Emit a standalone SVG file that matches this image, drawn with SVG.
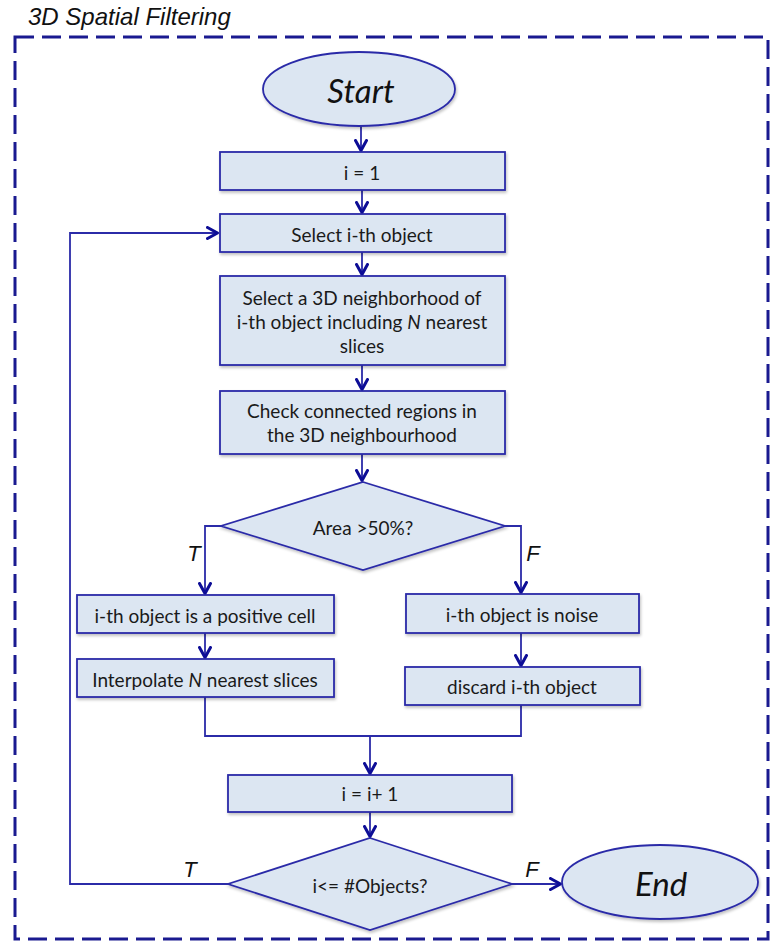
<svg xmlns="http://www.w3.org/2000/svg" width="772" height="943" viewBox="0 0 772 943">
<defs>
<marker id="arr" viewBox="0 0 14 14" refX="12.5" refY="7" markerWidth="14" markerHeight="14" markerUnits="userSpaceOnUse" orient="auto">
<path d="M2,1.5 L12,7 L2,12.5" fill="none" stroke="#0d0d96" stroke-width="3" stroke-linecap="round" stroke-linejoin="round"/>
</marker>
<filter id="sh" x="-10%" y="-10%" width="130%" height="140%">
<feGaussianBlur in="SourceAlpha" stdDeviation="1.5"/>
<feOffset dx="1" dy="2" result="b"/>
<feComponentTransfer><feFuncA type="linear" slope="0.25"/></feComponentTransfer>
<feMerge><feMergeNode/><feMergeNode in="SourceGraphic"/></feMerge>
</filter>
</defs>
<style>
.box{fill:#dce6f2;stroke:#2b2ba8;stroke-width:1.8;filter:url(#sh)}
.t{font-family:Lato,"Open Sans","Liberation Sans",sans-serif;font-size:19px;fill:#1a1a1a;text-anchor:middle}
.lab{font-family:"Liberation Sans",Arial,sans-serif;font-style:italic;font-size:22px;fill:#111;text-anchor:middle}
.big{font-family:Lato,"Open Sans","Liberation Sans",sans-serif;font-style:italic;font-size:33px;fill:#111;text-anchor:middle}
.ln{fill:none;stroke:#2b2ba8;stroke-width:1.8}
.ar{fill:none;stroke:#2b2ba8;stroke-width:1.8;marker-end:url(#arr)}
</style>
<rect width="772" height="943" fill="#fff"/>
<text x="28" y="25" font-family="'Liberation Sans',Arial,sans-serif" font-style="italic" font-size="24" fill="#111">3D Spatial Filtering</text>
<rect id="frame" x="15" y="37" width="753" height="902" fill="none" stroke="#1a1a90" stroke-width="3" stroke-dasharray="19,8"/>
<g id="connectors">
<line class="ar" x1="361" y1="126" x2="361" y2="151"/>
<line class="ar" x1="362" y1="190" x2="362" y2="213"/>
<line class="ar" x1="362" y1="252" x2="362" y2="275"/>
<line class="ar" x1="362" y1="365" x2="362" y2="390"/>
<line class="ar" x1="362" y1="454" x2="362" y2="481"/>
<polyline class="ar" points="221,526 205,526 205,594"/>
<line class="ar" x1="205" y1="633" x2="205" y2="658"/>
<polyline class="ar" points="505,526 521,526 521,593"/>
<line class="ar" x1="521" y1="633" x2="521" y2="666"/>
<polyline class="ln" points="205,697 205,736 521,736 521,705"/>
<line class="ar" x1="370" y1="736" x2="370" y2="774"/>
<line class="ar" x1="370" y1="812" x2="370" y2="837"/>
<polyline class="ar" points="228,884 70,884 70,233 218,233"/>
<line class="ar" x1="512" y1="884" x2="561" y2="884"/>
<text class="lab" x="194" y="561">T</text>
<text class="lab" x="533" y="561">F</text>
<text class="lab" x="190" y="877">T</text>
<text class="lab" x="532" y="877">F</text>
</g>
<g id="start">
<ellipse class="box" cx="359" cy="89" rx="96" ry="37"/>
<text class="big" x="361" y="103">Start</text>
</g>
<g id="init">
<rect class="box" x="220" y="152" width="285" height="38"/>
<text class="t" x="362" y="180">i = 1</text>
</g>
<g id="select">
<rect class="box" x="220" y="214" width="285" height="38"/>
<text class="t" x="362" y="242">Select i-th object</text>
</g>
<g id="neighborhood">
<rect class="box" x="220" y="276" width="285" height="89"/>
<text class="t" x="362" y="305">Select a 3D neighborhood of</text>
<text class="t" x="362" y="329">i-th object including <tspan font-style="italic">N</tspan> nearest</text>
<text class="t" x="362" y="353">slices</text>
</g>
<g id="check">
<rect class="box" x="220" y="391" width="285" height="63"/>
<text class="t" x="362" y="418">Check connected regions in</text>
<text class="t" x="362" y="442">the 3D neighbourhood</text>
</g>
<g id="area">
<polygon class="box" points="363,482 505,526 363,570 221,526"/>
<text class="t" x="363" y="535">Area &gt;50%?</text>
</g>
<g id="positive">
<rect class="box" x="77" y="595" width="257" height="38"/>
<text class="t" x="205" y="623">i-th object is a positive cell</text>
</g>
<g id="interpolate">
<rect class="box" x="77" y="659" width="257" height="38"/>
<text class="t" x="205" y="687">Interpolate <tspan font-style="italic">N</tspan> nearest slices</text>
</g>
<g id="noise">
<rect class="box" x="406" y="594" width="233" height="39"/>
<text class="t" x="522" y="622">i-th object is noise</text>
</g>
<g id="discard">
<rect class="box" x="405" y="667" width="235" height="38"/>
<text class="t" x="522" y="694">discard i-th object</text>
</g>
<g id="increment">
<rect class="box" x="228" y="775" width="284" height="37"/>
<text class="t" x="370" y="801">i = i+ 1</text>
</g>
<g id="check2">
<polygon class="box" points="370,838 512,884 370,930 228,884"/>
<text class="t" x="370" y="893" font-size="18.5">i&lt;= #Objects?</text>
</g>
<g id="end">
<ellipse class="box" cx="660" cy="882" rx="98" ry="37"/>
<text class="big" x="661" y="896" font-size="29">End</text>
</g>
</svg>
